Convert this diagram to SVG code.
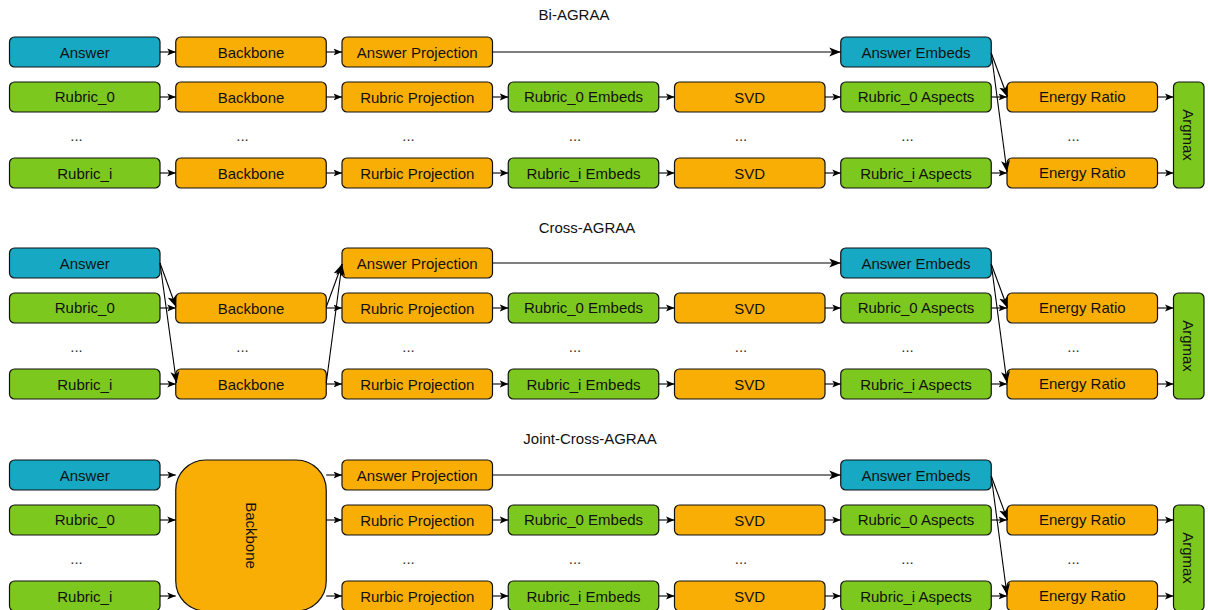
<svg xmlns="http://www.w3.org/2000/svg" width="1208" height="610" viewBox="0 0 1208 610">
<style>
text{font-family:"Liberation Sans",Arial,Helvetica,sans-serif;font-size:15px;fill:#111;text-anchor:middle}
.b{fill:#17a9c3;stroke:#111;stroke-width:1.2}
.g{fill:#7dc81f;stroke:#111;stroke-width:1.2}
.o{fill:#f9ae05;stroke:#111;stroke-width:1.2}
.d{fill:#333}
.t{fill:#111}
#edges path{fill:none;stroke:#000;stroke-width:1.1}
.s{marker-end:url(#ms)}
.l{marker-end:url(#ml)}
</style>
<defs>
<marker id="ms" markerUnits="userSpaceOnUse" markerWidth="9" markerHeight="8" viewBox="0 0 9 8" refX="8.5" refY="4" orient="auto"><path d="M0,0.5 L8.5,4 L0,7.5 L2,4 z" fill="#000"/></marker>
<marker id="ml" markerUnits="userSpaceOnUse" markerWidth="12" markerHeight="10" viewBox="0 0 12 10" refX="11.5" refY="5" orient="auto"><path d="M0,0.5 L11.5,5 L0,9.5 L2.8,5 z" fill="#000"/></marker>
</defs>

<!-- Titles -->
<text x="574" y="20" class="t">Bi-AGRAA</text>
<text x="587" y="233" class="t">Cross-AGRAA</text>
<text x="590" y="444" class="t">Joint-Cross-AGRAA</text>

<!-- ===== Section 1: Bi-AGRAA ===== -->
<g id="s1-answer"><rect class="b" x="9.5" y="37" width="150.5" height="30" rx="5"/><text x="84.75" y="57.5">Answer</text></g>
<g id="s1-backbone-a"><rect class="o" x="175.75" y="37" width="150.5" height="30" rx="5"/><text x="251" y="57.5">Backbone</text></g>
<g id="s1-answer-proj"><rect class="o" x="342" y="37" width="150.5" height="30" rx="5"/><text x="417.25" y="57.5">Answer Projection</text></g>
<g id="s1-answer-embeds"><rect class="b" x="840.75" y="37" width="150.5" height="30" rx="5"/><text x="916" y="57.5">Answer Embeds</text></g>

<g id="s1-rubric0"><rect class="g" x="9.5" y="82" width="150.5" height="30" rx="5"/><text x="84.75" y="102">Rubric_0</text></g>
<g id="s1-backbone-0"><rect class="o" x="175.75" y="82" width="150.5" height="30" rx="5"/><text x="251" y="103">Backbone</text></g>
<g id="s1-rproj-0"><rect class="o" x="342" y="82" width="150.5" height="30" rx="5"/><text x="417.25" y="103">Rubric Projection</text></g>
<g id="s1-remb-0"><rect class="g" x="508.25" y="82" width="150.5" height="30" rx="5"/><text x="583.5" y="102">Rubric_0 Embeds</text></g>
<g id="s1-svd-0"><rect class="o" x="674.5" y="82" width="150.5" height="30" rx="5"/><text x="749.75" y="103">SVD</text></g>
<g id="s1-asp-0"><rect class="g" x="840.75" y="82" width="150.5" height="30" rx="5"/><text x="916" y="102">Rubric_0 Aspects</text></g>
<g id="s1-er-0"><rect class="o" x="1007" y="82" width="150.5" height="30" rx="5"/><text x="1082.25" y="101.5">Energy Ratio</text></g>

<g id="s1-dots"><text class="d" x="76.5" y="141">...</text><text class="d" x="242.5" y="141">...</text><text class="d" x="408.5" y="141">...</text><text class="d" x="575" y="141">...</text><text class="d" x="741" y="141">...</text><text class="d" x="907.5" y="141">...</text><text class="d" x="1073.5" y="141">...</text></g>

<g id="s1-rubrici"><rect class="g" x="9.5" y="158" width="150.5" height="30" rx="5"/><text x="84.75" y="178.5">Rubric_i</text></g>
<g id="s1-backbone-i"><rect class="o" x="175.75" y="158" width="150.5" height="30" rx="5"/><text x="251" y="179">Backbone</text></g>
<g id="s1-rproj-i"><rect class="o" x="342" y="158" width="150.5" height="30" rx="5"/><text x="417.25" y="179">Rurbic Projection</text></g>
<g id="s1-remb-i"><rect class="g" x="508.25" y="158" width="150.5" height="30" rx="5"/><text x="583.5" y="178.5">Rubric_i Embeds</text></g>
<g id="s1-svd-i"><rect class="o" x="674.5" y="158" width="150.5" height="30" rx="5"/><text x="749.75" y="179">SVD</text></g>
<g id="s1-asp-i"><rect class="g" x="840.75" y="158" width="150.5" height="30" rx="5"/><text x="916" y="178.5">Rubric_i Aspects</text></g>
<g id="s1-er-i"><rect class="o" x="1007" y="158" width="150.5" height="30" rx="5"/><text x="1082.25" y="177.5">Energy Ratio</text></g>

<g id="s1-argmax"><rect class="g" x="1173.5" y="82" width="30.5" height="106" rx="5"/><text transform="translate(1188.75,135) rotate(90)" x="0" y="5.5">Argmax</text></g>

<!-- ===== Section 2: Cross-AGRAA ===== -->
<g id="s2-answer"><rect class="b" x="9.5" y="248" width="150.5" height="30" rx="5"/><text x="84.75" y="268.5">Answer</text></g>
<g id="s2-answer-proj"><rect class="o" x="342" y="248" width="150.5" height="30" rx="5"/><text x="417.25" y="268.5">Answer Projection</text></g>
<g id="s2-answer-embeds"><rect class="b" x="840.75" y="248" width="150.5" height="30" rx="5"/><text x="916" y="268.5">Answer Embeds</text></g>

<g id="s2-rubric0"><rect class="g" x="9.5" y="293" width="150.5" height="30" rx="5"/><text x="84.75" y="313">Rubric_0</text></g>
<g id="s2-backbone-0"><rect class="o" x="175.75" y="293" width="150.5" height="30" rx="5"/><text x="251" y="314">Backbone</text></g>
<g id="s2-rproj-0"><rect class="o" x="342" y="293" width="150.5" height="30" rx="5"/><text x="417.25" y="314">Rubric Projection</text></g>
<g id="s2-remb-0"><rect class="g" x="508.25" y="293" width="150.5" height="30" rx="5"/><text x="583.5" y="313">Rubric_0 Embeds</text></g>
<g id="s2-svd-0"><rect class="o" x="674.5" y="293" width="150.5" height="30" rx="5"/><text x="749.75" y="314">SVD</text></g>
<g id="s2-asp-0"><rect class="g" x="840.75" y="293" width="150.5" height="30" rx="5"/><text x="916" y="313">Rubric_0 Aspects</text></g>
<g id="s2-er-0"><rect class="o" x="1007" y="293" width="150.5" height="30" rx="5"/><text x="1082.25" y="313">Energy Ratio</text></g>

<g id="s2-dots"><text class="d" x="76.5" y="352">...</text><text class="d" x="242.5" y="352">...</text><text class="d" x="408.5" y="352">...</text><text class="d" x="575" y="352">...</text><text class="d" x="741" y="352">...</text><text class="d" x="907.5" y="352">...</text><text class="d" x="1073.5" y="352">...</text></g>

<g id="s2-rubrici"><rect class="g" x="9.5" y="369" width="150.5" height="30" rx="5"/><text x="84.75" y="389.5">Rubric_i</text></g>
<g id="s2-backbone-i"><rect class="o" x="175.75" y="369" width="150.5" height="30" rx="5"/><text x="251" y="390">Backbone</text></g>
<g id="s2-rproj-i"><rect class="o" x="342" y="369" width="150.5" height="30" rx="5"/><text x="417.25" y="390">Rurbic Projection</text></g>
<g id="s2-remb-i"><rect class="g" x="508.25" y="369" width="150.5" height="30" rx="5"/><text x="583.5" y="389.5">Rubric_i Embeds</text></g>
<g id="s2-svd-i"><rect class="o" x="674.5" y="369" width="150.5" height="30" rx="5"/><text x="749.75" y="390">SVD</text></g>
<g id="s2-asp-i"><rect class="g" x="840.75" y="369" width="150.5" height="30" rx="5"/><text x="916" y="389.5">Rubric_i Aspects</text></g>
<g id="s2-er-i"><rect class="o" x="1007" y="369" width="150.5" height="30" rx="5"/><text x="1082.25" y="389">Energy Ratio</text></g>

<g id="s2-argmax"><rect class="g" x="1173.5" y="293" width="30.5" height="106" rx="5"/><text transform="translate(1188.75,346) rotate(90)" x="0" y="5.5">Argmax</text></g>

<!-- ===== Section 3: Joint-Cross-AGRAA ===== -->
<g id="s3-answer"><rect class="b" x="9.5" y="460" width="150.5" height="30" rx="5"/><text x="84.75" y="480.5">Answer</text></g>
<g id="s3-backbone"><rect class="o" x="175.75" y="460" width="150.5" height="151" rx="30"/><text transform="translate(251,535.5) rotate(90)" x="0" y="5.5">Backbone</text></g>
<g id="s3-answer-proj"><rect class="o" x="342" y="460" width="150.5" height="30" rx="5"/><text x="417.25" y="480.5">Answer Projection</text></g>
<g id="s3-answer-embeds"><rect class="b" x="840.75" y="460" width="150.5" height="30" rx="5"/><text x="916" y="480.5">Answer Embeds</text></g>

<g id="s3-rubric0"><rect class="g" x="9.5" y="505" width="150.5" height="30" rx="5"/><text x="84.75" y="525">Rubric_0</text></g>
<g id="s3-rproj-0"><rect class="o" x="342" y="505" width="150.5" height="30" rx="5"/><text x="417.25" y="526">Rubric Projection</text></g>
<g id="s3-remb-0"><rect class="g" x="508.25" y="505" width="150.5" height="30" rx="5"/><text x="583.5" y="525">Rubric_0 Embeds</text></g>
<g id="s3-svd-0"><rect class="o" x="674.5" y="505" width="150.5" height="30" rx="5"/><text x="749.75" y="526">SVD</text></g>
<g id="s3-asp-0"><rect class="g" x="840.75" y="505" width="150.5" height="30" rx="5"/><text x="916" y="525">Rubric_0 Aspects</text></g>
<g id="s3-er-0"><rect class="o" x="1007" y="505" width="150.5" height="30" rx="5"/><text x="1082.25" y="525">Energy Ratio</text></g>

<g id="s3-dots"><text class="d" x="76.5" y="564">...</text><text class="d" x="408.5" y="564">...</text><text class="d" x="575" y="564">...</text><text class="d" x="741" y="564">...</text><text class="d" x="907.5" y="564">...</text><text class="d" x="1073.5" y="564">...</text></g>

<g id="s3-rubrici"><rect class="g" x="9.5" y="581" width="150.5" height="30" rx="5"/><text x="84.75" y="601.5">Rubric_i</text></g>
<g id="s3-rproj-i"><rect class="o" x="342" y="581" width="150.5" height="30" rx="5"/><text x="417.25" y="602">Rurbic Projection</text></g>
<g id="s3-remb-i"><rect class="g" x="508.25" y="581" width="150.5" height="30" rx="5"/><text x="583.5" y="601.5">Rubric_i Embeds</text></g>
<g id="s3-svd-i"><rect class="o" x="674.5" y="581" width="150.5" height="30" rx="5"/><text x="749.75" y="602">SVD</text></g>
<g id="s3-asp-i"><rect class="g" x="840.75" y="581" width="150.5" height="30" rx="5"/><text x="916" y="601.5">Rubric_i Aspects</text></g>
<g id="s3-er-i"><rect class="o" x="1007" y="581" width="150.5" height="30" rx="5"/><text x="1082.25" y="601">Energy Ratio</text></g>

<g id="s3-argmax"><rect class="g" x="1173.5" y="505" width="30.5" height="106" rx="5"/><text transform="translate(1188.75,558) rotate(90)" x="0" y="5.5">Argmax</text></g>

<!-- ===== Connectors ===== -->
<g id="edges">
<!-- section 1 -->
<path class="s" d="M160,52 H175.75"/>
<path class="s" d="M326.25,52 H342"/>
<path class="l" d="M492.5,52 H840.75"/>
<path class="s" d="M160,97 H175.75"/>
<path class="s" d="M326.25,97 H342"/>
<path class="s" d="M492.5,97 H508.25"/>
<path class="s" d="M658.75,97 H674.5"/>
<path class="s" d="M825,97 H840.75"/>
<path class="s" d="M991.25,97 H1007"/>
<path class="s" d="M1157.5,97 H1173.5"/>
<path class="s" d="M160,173 H175.75"/>
<path class="s" d="M326.25,173 H342"/>
<path class="s" d="M492.5,173 H508.25"/>
<path class="s" d="M658.75,173 H674.5"/>
<path class="s" d="M825,173 H840.75"/>
<path class="s" d="M991.25,173 H1007"/>
<path class="s" d="M1157.5,173 H1173.5"/>
<path class="l" d="M991.25,53 L1007.5,97"/>
<path class="l" d="M991.25,53 L1007,172"/>
<!-- section 2 -->
<path class="l" d="M160,263 L176,307"/>
<path class="l" d="M160,263 L176.5,383"/>
<path class="s" d="M160,308 H175.75"/>
<path class="s" d="M160,384 H175.75"/>
<path class="l" d="M326.25,307 L342,264"/>
<path class="l" d="M326.25,383 L342,264"/>
<path class="s" d="M326.25,308 H342"/>
<path class="s" d="M326.25,384 H342"/>
<path class="l" d="M492.5,263 H840.75"/>
<path class="s" d="M492.5,308 H508.25"/>
<path class="s" d="M658.75,308 H674.5"/>
<path class="s" d="M825,308 H840.75"/>
<path class="s" d="M991.25,308 H1007"/>
<path class="s" d="M1157.5,308 H1173.5"/>
<path class="s" d="M492.5,384 H508.25"/>
<path class="s" d="M658.75,384 H674.5"/>
<path class="s" d="M825,384 H840.75"/>
<path class="s" d="M991.25,384 H1007"/>
<path class="s" d="M1157.5,384 H1173.5"/>
<path class="l" d="M991.25,264 L1007.5,308"/>
<path class="l" d="M991.25,264 L1007,383"/>
<!-- section 3 -->
<path class="s" d="M160,475 H175.75"/>
<path class="s" d="M160,520 H175.75"/>
<path class="s" d="M160,596 H175.75"/>
<path class="s" d="M326.25,475 H342"/>
<path class="s" d="M326.25,520 H342"/>
<path class="s" d="M326.25,596 H342"/>
<path class="l" d="M492.5,475 H840.75"/>
<path class="s" d="M492.5,520 H508.25"/>
<path class="s" d="M658.75,520 H674.5"/>
<path class="s" d="M825,520 H840.75"/>
<path class="s" d="M991.25,520 H1007"/>
<path class="s" d="M1157.5,520 H1173.5"/>
<path class="s" d="M492.5,596 H508.25"/>
<path class="s" d="M658.75,596 H674.5"/>
<path class="s" d="M825,596 H840.75"/>
<path class="s" d="M991.25,596 H1007"/>
<path class="s" d="M1157.5,596 H1173.5"/>
<path class="l" d="M991.25,476 L1007.5,520"/>
<path class="l" d="M991.25,476 L1007,595"/>
</g>
</svg>
